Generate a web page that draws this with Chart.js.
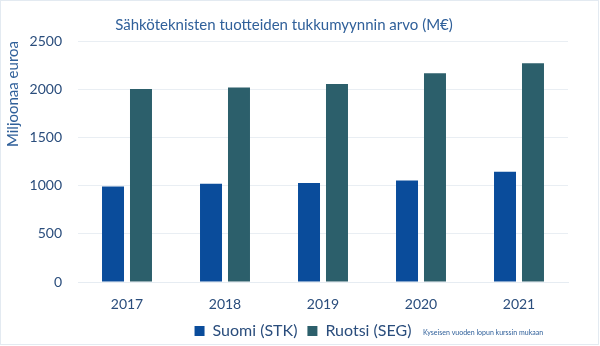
<!DOCTYPE html>
<html>
<head>
<meta charset="utf-8">
<script src="https://cdn.jsdelivr.net/npm/chart.js@4"></script>
<style>
  body { margin: 0; background: #fff; }
  canvas { display: block; }
</style>
</head>
<body>
<canvas id="chart" width="600" height="346"></canvas>
<script>
const years = ['2017', '2018', '2019', '2020', '2021'];
const suomi = [990, 1020, 1027, 1054, 1144];
const ruotsi = [2003, 2017, 2055, 2166, 2269];
const yTicks = [0, 500, 1000, 1500, 2000, 2500];

const textBlue = '#2a4d7c';
const titleBlue = '#30609a';

// legend sits a bit right of the title's centre in the original
const legendShift = {
  id: 'legendShift',
  afterLayout(chart) {
    chart.legend.left += 19;
    chart.legend.right += 19;
  }
};

// small note next to the legend + faint frame
const notePlugin = {
  id: 'note',
  afterDraw(chart) {
    const ctx = chart.ctx;
    ctx.save();
    ctx.font = '7px Lato';
    ctx.fillStyle = titleBlue;
    ctx.textBaseline = 'middle';
    ctx.fillText('Kyseisen vuoden lopun kurssin mukaan', 423, 333);
    ctx.strokeStyle = '#e3eaf1';
    ctx.lineWidth = 1;
    ctx.strokeRect(0.5, 0.5, 598, 344);
    ctx.restore();
  }
};

new Chart(document.getElementById('chart').getContext('2d'), {
  type: 'bar',
  data: {
    labels: years,
    datasets: [
      { label: 'Suomi (STK)', data: suomi, backgroundColor: '#0a4c9b',
        categoryPercentage: 0.571, barPercentage: 0.786 },
      { label: 'Ruotsi (SEG)', data: ruotsi, backgroundColor: '#2c5f6b',
        categoryPercentage: 0.571, barPercentage: 0.786 }
    ]
  },
  options: {
    responsive: false,
    animation: false,
    layout: { padding: { top: 0, right: 32, bottom: -3, left: 0 } },
    plugins: {
      title: {
        display: true,
        text: 'Sähköteknisten tuotteiden tukkumyynnin arvo (M€)',
        color: titleBlue,
        font: { family: 'Lato', size: 15, weight: 'normal' },
        padding: { top: 16, bottom: 7 }
      },
      legend: {
        position: 'bottom',
        labels: {
          color: textBlue,
          font: { family: 'Lato', size: 16 },
          boxWidth: 10, boxHeight: 10,
          padding: 10
        }
      },
      tooltip: { enabled: false }
    },
    scales: {
      x: {
        grid: { display: false, drawTicks: false },
        border: { display: true, color: '#e6ecf2' },
        ticks: { color: textBlue, font: { family: 'Lato', size: 14 }, padding: 14 },
        afterFit(scale) { scale.height = 31; }
      },
      y: {
        min: 0,
        max: 2500,
        afterBuildTicks(scale) { scale.ticks = yTicks.map(v => ({ value: v })); },
        grid: { color: '#e9eef3', drawTicks: false },
        border: { display: false },
        ticks: {
          color: textBlue,
          font: { family: 'Lato', size: 14 },
          padding: 16,
          callback: v => String(v)
        },
        title: {
          display: true,
          text: 'Miljoonaa euroa',
          align: 'end',
          color: titleBlue,
          font: { family: 'Lato', size: 15 },
          padding: { top: 4, bottom: 0 }
        },
        afterFit(scale) { scale.width = 78; }
      }
    }
  },
  plugins: [legendShift, notePlugin]
});
</script>
</body>
</html>
